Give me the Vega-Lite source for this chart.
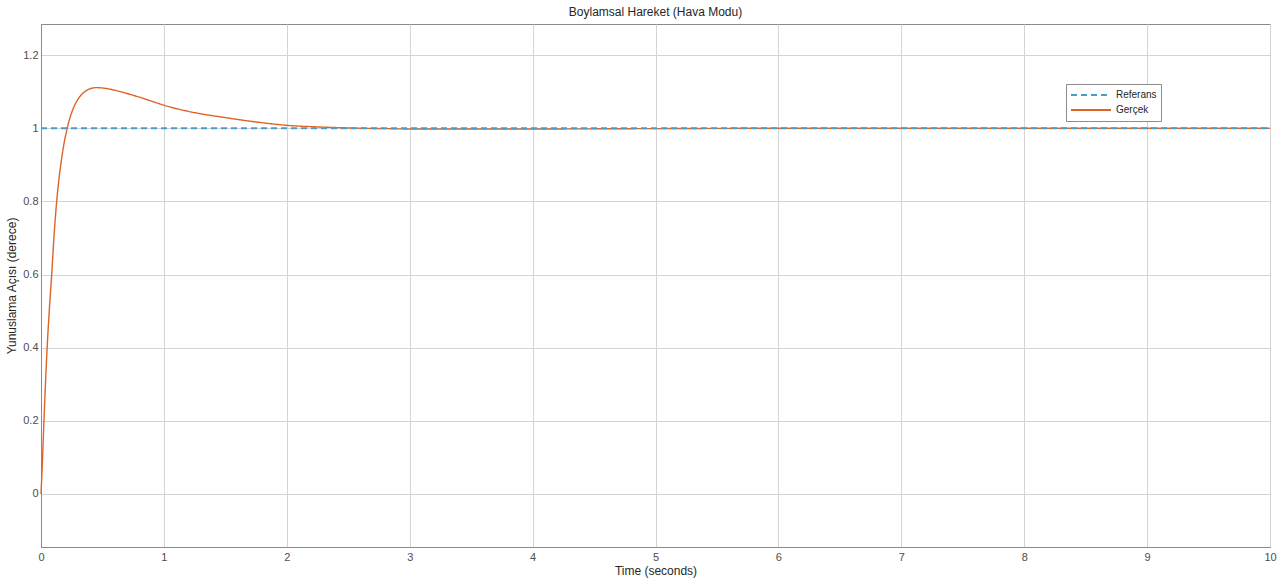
{
  "$schema": "https://vega.github.io/schema/vega-lite/v6.json",
  "autosize": {"type": "none"},
  "width": 1229,
  "height": 523,
  "padding": {"left": 41, "top": 24, "right": 13, "bottom": 36},
  "background": "white",
  "title": {"text": "Boylamsal Hareket (Hava Modu)", "font": "Liberation Sans", "fontSize": 12, "fontWeight": "normal", "color": "#262626", "offset": 5},
  "config": {
    "view": {"stroke": "#8a8a8a", "strokeWidth": 1},
    "axis": {"labelFont": "Liberation Sans", "titleFont": "Liberation Sans", "labelFontSize": 11, "titleFontSize": 12, "titleFontWeight": "normal", "labelColor": "#4d4d4d", "titleColor": "#262626", "gridColor": "#d4d4d4", "gridOpacity": 1, "domainColor": "#8a8a8a", "ticks": false, "labelFlush": false}
  },
  "datasets": {
    "gercek": [
      {"t": 0, "v": 0}, {"t": 0.01, "v": 0.075}, {"t": 0.024, "v": 0.2}, {"t": 0.05, "v": 0.4},
      {"t": 0.07, "v": 0.515}, {"t": 0.087, "v": 0.6}, {"t": 0.105, "v": 0.7}, {"t": 0.125, "v": 0.79},
      {"t": 0.145, "v": 0.858}, {"t": 0.165, "v": 0.91}, {"t": 0.19, "v": 0.963}, {"t": 0.21, "v": 0.995},
      {"t": 0.225, "v": 1.016}, {"t": 0.24, "v": 1.033}, {"t": 0.26, "v": 1.052}, {"t": 0.28, "v": 1.067},
      {"t": 0.3, "v": 1.079}, {"t": 0.33, "v": 1.092}, {"t": 0.36, "v": 1.101}, {"t": 0.4, "v": 1.108},
      {"t": 0.45, "v": 1.111}, {"t": 0.5, "v": 1.11}, {"t": 0.6, "v": 1.104}, {"t": 0.7, "v": 1.095},
      {"t": 0.8, "v": 1.085}, {"t": 0.9, "v": 1.074}, {"t": 1.0, "v": 1.063}, {"t": 1.2, "v": 1.046},
      {"t": 1.5, "v": 1.029}, {"t": 1.8, "v": 1.015}, {"t": 2.0, "v": 1.008}, {"t": 2.3, "v": 1.003},
      {"t": 2.6, "v": 1.0}, {"t": 2.8, "v": 0.999}, {"t": 3.0, "v": 0.998}, {"t": 3.5, "v": 0.998},
      {"t": 4, "v": 0.998}, {"t": 5, "v": 0.999}, {"t": 6, "v": 1.0}, {"t": 7, "v": 1.0},
      {"t": 8, "v": 1.0}, {"t": 9, "v": 1.0}, {"t": 10, "v": 1.0}
    ],
    "referans": [{"t": 0, "v": 1}, {"t": 10, "v": 1}]
  },
  "encoding": {
    "x": {"field": "t", "type": "quantitative", "scale": {"domain": [0, 10], "nice": false, "zero": false},
      "axis": {"title": "Time (seconds)", "values": [0,1,2,3,4,5,6,7,8,9,10], "format": "d", "labelPadding": 4, "titlePadding": 3, "grid": true}},
    "y": {"field": "v", "type": "quantitative", "scale": {"domain": [-0.145, 1.285], "nice": false, "zero": false},
      "axis": {"title": "Yunuslama Açısı (derece)", "values": [0, 0.2, 0.4, 0.6, 0.8, 1, 1.2], "format": "~r", "labelPadding": 3, "titlePadding": 4, "grid": true}}
  },
  "layer": [
    {
      "data": {"name": "gercek"},
      "transform": [{"calculate": "'Gerçek'", "as": "seri"}],
      "mark": {"type": "line", "strokeWidth": 1.4, "interpolate": "monotone"},
      "encoding": {
        "color": {"field": "seri", "type": "nominal", "scale": {"domain": ["Referans", "Gerçek"], "range": ["#4a9bc7", "#dd6428"]},
          "legend": {"title": null, "orient": "none", "legendX": 1025, "legendY": 60, "symbolType": "stroke", "symbolSize": 1600, "symbolStrokeWidth": 2, "clipHeight": 14, "rowPadding": 1, "labelFont": "Liberation Sans", "labelFontSize": 10, "labelColor": "#262626", "strokeColor": "#8c8c8c", "fillColor": "white", "padding": 4, "labelOffset": 4}},
        "strokeDash": {"field": "seri", "type": "nominal", "scale": {"domain": ["Referans", "Gerçek"], "range": [[6, 4], [1, 0]]}, "legend": null}
      }
    },
    {
      "data": {"name": "referans"},
      "transform": [{"calculate": "'Referans'", "as": "seri"}],
      "mark": {"type": "line", "strokeWidth": 2},
      "encoding": {
        "color": {"field": "seri", "type": "nominal"},
        "strokeDash": {"field": "seri", "type": "nominal"}
      }
    }
  ]
}
